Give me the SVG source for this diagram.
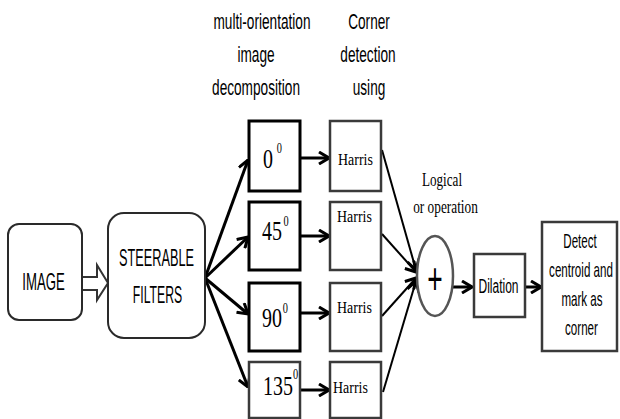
<svg xmlns="http://www.w3.org/2000/svg" width="620" height="419" viewBox="0 0 620 419">
<style>
.sans{font-family:"Liberation Sans",Arial,sans-serif;fill:#000}
.serif{font-family:"Liberation Serif","Times New Roman",serif;fill:#000}
.c{text-anchor:middle}
.lbl{font-size:22px}
.big{font-size:24px}
.mid{font-size:20px}
.deg{font-size:27px}
.sup{font-size:14px}
.harris{font-size:17px}
.orient{fill:#fff;stroke:#000;stroke-width:3}
.hbox{fill:#fff;stroke:#3a3a3a;stroke-width:2.5}
.rbox{fill:#fff;stroke:#2a2a2a;stroke-width:2}
.conn{stroke:#000;stroke-width:3;fill:none}
.thin{stroke:#000;stroke-width:2;fill:none}
</style>
<defs>
<marker id="ah" viewBox="0 0 12 14" refX="11" refY="7" markerWidth="12" markerHeight="14" markerUnits="userSpaceOnUse" orient="auto">
<path d="M1,1 L11,7 L1,13" fill="none" stroke="#000" stroke-width="3"/>
</marker>
</defs>

<g id="label-decomp">
<text class="sans lbl c" transform="translate(262,29) scale(0.62,1)">multi-orientation</text>
<text class="sans lbl c" transform="translate(256,62) scale(0.62,1)">image</text>
<text class="sans lbl c" transform="translate(256,95) scale(0.62,1)">decomposition</text>
</g>
<g id="label-corner">
<text class="sans lbl c" transform="translate(369,29) scale(0.62,1)">Corner</text>
<text class="sans lbl c" transform="translate(368,62) scale(0.62,1)">detection</text>
<text class="sans lbl c" transform="translate(369,95) scale(0.62,1)">using</text>
</g>
<g id="label-logical">
<text class="serif c" font-size="18" transform="translate(442,186) scale(0.73,1)">Logical</text>
<text class="serif c" font-size="18" transform="translate(445.5,213) scale(0.74,1)">or operation</text>
</g>

<g id="connectors">
<path d="M82,277 L97,277 L97,265 L108,283 L97,300 L97,290 L82,290" fill="#fff" stroke="#333" stroke-width="2" stroke-linejoin="miter"/>
<line class="conn" x1="205" y1="278" x2="248" y2="160" marker-end="url(#ah)"/>
<line class="conn" x1="205" y1="278" x2="248" y2="237" marker-end="url(#ah)"/>
<line class="conn" x1="205" y1="278" x2="248" y2="314" marker-end="url(#ah)"/>
<line class="conn" x1="205" y1="278" x2="248" y2="387" marker-end="url(#ah)"/>
<line class="conn" x1="300" y1="158" x2="329" y2="158" marker-end="url(#ah)"/>
<line class="conn" x1="300" y1="236" x2="329" y2="236" marker-end="url(#ah)"/>
<line class="conn" x1="300" y1="313" x2="329" y2="313" marker-end="url(#ah)"/>
<line class="conn" x1="300" y1="390" x2="329" y2="390" marker-end="url(#ah)"/>
<line class="thin" x1="382" y1="150" x2="416" y2="270" marker-end="url(#ah)"/>
<line class="thin" x1="382" y1="234" x2="416" y2="272" marker-end="url(#ah)"/>
<line class="thin" x1="382" y1="316" x2="416" y2="278" marker-end="url(#ah)"/>
<line class="thin" x1="383" y1="392" x2="416" y2="281" marker-end="url(#ah)"/>
<line class="conn" x1="453" y1="287" x2="472" y2="287" marker-end="url(#ah)"/>
<line class="conn" x1="525" y1="287" x2="541" y2="287" marker-end="url(#ah)"/>
</g>

<g id="node-image">
<rect class="rbox" x="8" y="224" width="74" height="96" rx="11"/>
<text class="sans big c" transform="translate(43.5,290) scale(0.55,1)">IMAGE</text>
</g>
<g id="node-steerable">
<rect class="rbox" x="108" y="213" width="97" height="125" rx="16"/>
<text class="sans big c" transform="translate(156.5,266) scale(0.53,1)">STEERABLE</text>
<text class="sans big c" transform="translate(157.5,303) scale(0.51,1)">FILTERS</text>
</g>

<g id="node-deg0">
<rect class="orient" x="249" y="121" width="51" height="70"/>
<text class="serif deg" transform="translate(263,168) scale(0.74,1)">0<tspan class="sup" dx="5" dy="-15">0</tspan></text>
</g>
<g id="node-deg45">
<rect class="orient" x="249" y="202" width="51" height="68"/>
<text class="serif deg" transform="translate(262,240) scale(0.74,1)">45<tspan class="sup" dx="2" dy="-14">0</tspan></text>
</g>
<g id="node-deg90">
<rect class="orient" x="249" y="283" width="51" height="68"/>
<text class="serif deg" transform="translate(262,327) scale(0.74,1)">90<tspan class="sup" dx="1" dy="-14">0</tspan></text>
</g>
<g id="node-deg135">
<rect class="hbox" x="249" y="362" width="51" height="56"/>
<text class="serif deg" transform="translate(263,395) scale(0.74,1)">135<tspan class="sup" dx="0" dy="-16">0</tspan></text>
</g>

<g id="node-harris0">
<rect class="hbox" x="330" y="121" width="51" height="70"/>
<text class="serif harris" transform="translate(338,165) scale(0.82,1)">Harris</text>
</g>
<g id="node-harris45">
<rect class="hbox" x="330" y="202" width="51" height="68"/>
<text class="serif harris" transform="translate(337,222) scale(0.82,1)">Harris</text>
</g>
<g id="node-harris90">
<rect class="hbox" x="330" y="283" width="51" height="68"/>
<text class="serif harris" transform="translate(337,313) scale(0.82,1)">Harris</text>
</g>
<g id="node-harris135">
<rect class="hbox" x="330" y="362" width="51" height="56"/>
<text class="serif harris" transform="translate(333,393) scale(0.82,1)">Harris</text>
</g>

<g id="node-or">
<ellipse cx="435" cy="276" rx="18" ry="40" fill="#fff" stroke="#555" stroke-width="2.5"/>
<text class="sans c" font-size="44" transform="translate(435,294) scale(0.6,1)">+</text>
</g>
<g id="node-dilation">
<rect class="hbox" x="474" y="254" width="51" height="63"/>
<text class="sans mid c" transform="translate(498.5,293) scale(0.6,1)">Dilation</text>
</g>
<g id="node-detect">
<rect class="hbox" x="542" y="222" width="75" height="129"/>
<text class="sans mid c" transform="translate(580,248) scale(0.58,1)">Detect</text>
<text class="sans mid c" transform="translate(581,277) scale(0.58,1)">centroid and</text>
<text class="sans mid c" transform="translate(582,306) scale(0.58,1)">mark as</text>
<text class="sans mid c" transform="translate(581.5,335) scale(0.58,1)">corner</text>
</g>
</svg>
